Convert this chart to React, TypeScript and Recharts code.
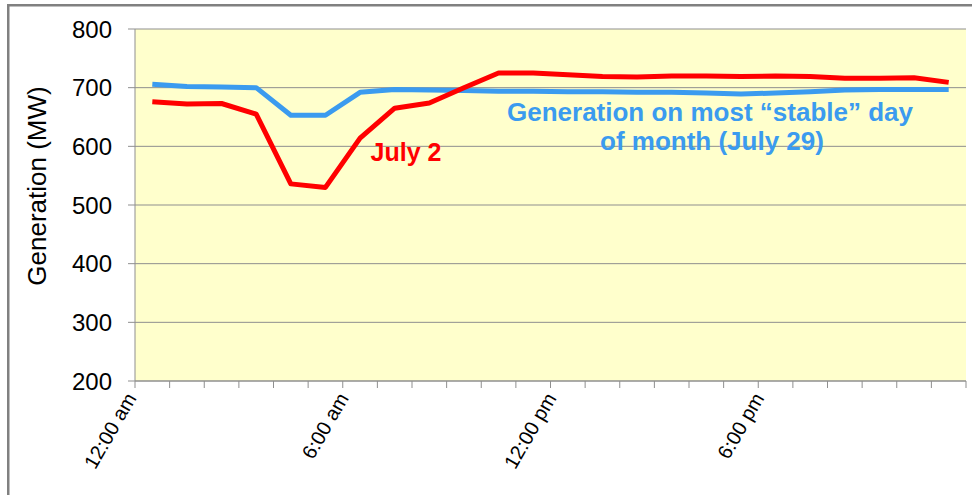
import { CartesianGrid, Line, LineChart, XAxis, YAxis } from "recharts";

const hours = [0, 1, 2, 3, 4, 5, 6, 7, 8, 9, 10, 11, 12, 13, 14, 15, 16, 17, 18, 19, 20, 21, 22, 23];
const july2 = [676, 672, 673, 655, 536, 530, 614, 665, 674, 700, 725, 725, 722, 719, 718, 720, 720, 719, 720, 719, 716, 716, 717, 709];
const july29 = [706, 702, 701, 700, 653, 653, 692, 697, 696, 695, 694, 694, 693, 693, 692, 692, 691, 689, 691, 693, 696, 697, 697, 697];

const hourTicks = [0, 1, 2, 3, 4, 5, 6, 7, 8, 9, 10, 11, 12, 13, 14, 15, 16, 17, 18, 19, 20, 21, 22, 23, 24];
const labelHours = [0, 6, 12, 18];
const labelTexts = ["12:00 am", "6:00 am", "12:00 pm", "6:00 pm"];
const mwTicks = [200, 300, 400, 500, 600, 700, 800];

// hourly values sit in the middle of each hour slot
const data = hours.map((h, i) => ({ x: h + 0.5, july2: july2[i], july29: july29[i] }));

const FONT = "'Liberation Sans', Arial, sans-serif";
const GRID = "#8f8f8f";
const RED = "#ff0000";
const BLUE = "#3b9bef";

function HourTick(props: any) {
  const { x, payload } = props;
  const idx = labelHours.indexOf(payload.value);
  if (idx < 0) return null;
  const dx = payload.value === 0 ? 2 : 6.5;
  return (
    <g transform={`translate(${x + dx},398)`}>
      <text textAnchor="end" transform="rotate(-60)" fontSize={20} fontFamily={FONT} fill="#000">
        {labelTexts[idx]}
      </text>
    </g>
  );
}

export default function App() {
  return (
    <div style={{ position: "fixed", left: 0, top: 0, width: 972, height: 495, background: "#fff" }}>
      <div style={{ position: "absolute", left: 0, top: 0 }}>
        <LineChart width={972} height={495} data={data} margin={{ top: 29, right: 6, left: 20, bottom: 0 }}>
          <CartesianGrid vertical={false} stroke={GRID} fill="#ffffcc" />
          <XAxis
            dataKey="x"
            type="number"
            domain={[0, 24]}
            ticks={hourTicks}
            interval={0}
            height={114}
            tickSize={7}
            axisLine={{ stroke: GRID }}
            tickLine={{ stroke: GRID }}
            tick={<HourTick />}
          />
          <YAxis
            domain={[200, 800]}
            ticks={mwTicks}
            width={115}
            tickSize={7}
            tickMargin={16}
            axisLine={{ stroke: GRID }}
            tickLine={{ stroke: GRID }}
            tick={{ fontSize: 24, fontFamily: FONT, fill: "#000" }}
          />
          <Line
            type="linear"
            dataKey="july29"
            stroke={BLUE}
            strokeWidth={5}
            strokeLinejoin="round"
            dot={false}
            activeDot={false}
            isAnimationActive={false}
          />
          <Line
            type="linear"
            dataKey="july2"
            stroke={RED}
            strokeWidth={5}
            strokeLinejoin="round"
            dot={false}
            activeDot={false}
            isAnimationActive={false}
          />
        </LineChart>
      </div>
      <svg width={972} height={495} style={{ position: "absolute", left: 0, top: 0, pointerEvents: "none" }}>
        {/* slide frame */}
        <rect x={7} y={4} width={965} height={2.5} fill="#808080" />
        <rect x={7} y={4} width={2.5} height={491} fill="#808080" />
        <text x={46} y={186} transform="rotate(-90 46 186)" textAnchor="middle" fontSize={26} fontFamily={FONT} fill="#000">
          Generation (MW)
        </text>
        <text x={406} y={161} textAnchor="middle" fontSize={25} fontWeight="bold" fontFamily={FONT} fill={RED}>
          July 2
        </text>
        <text textAnchor="middle" fontSize={26} fontWeight="bold" fontFamily={FONT} fill={BLUE}>
          <tspan x={710} y={121}>Generation on most “stable” day</tspan>
          <tspan x={712} y={150}>of month (July 29)</tspan>
        </text>
      </svg>
    </div>
  );
}
